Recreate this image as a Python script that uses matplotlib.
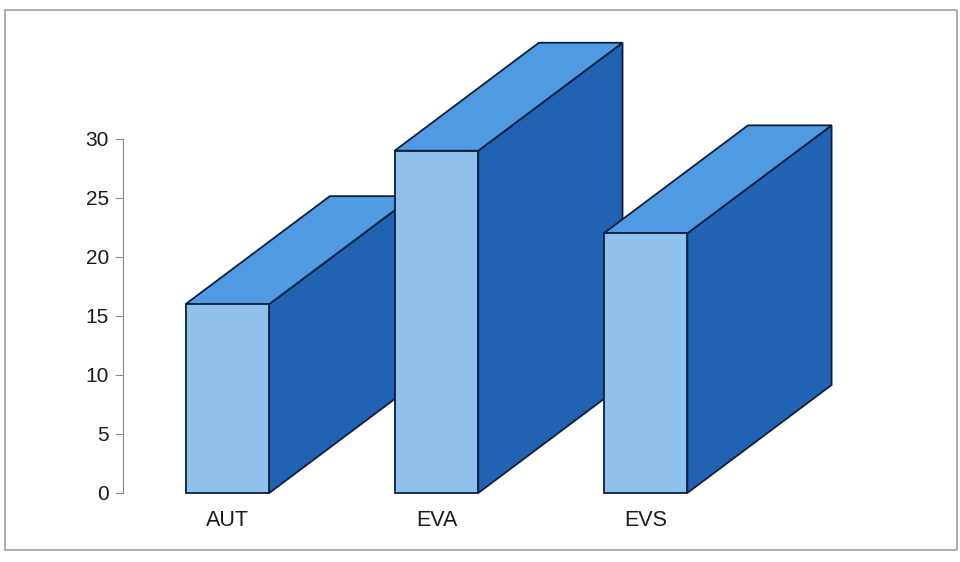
import matplotlib.pyplot as plt
from matplotlib.patches import Polygon, Rectangle

categories = ["AUT", "EVA", "EVS"]
values = [16, 29, 22]

front_col = "#90c0ec"
top_col = "#4f9ae0"
side_col = "#2262b2"
edge_col = "#0c1f3c"

width = 0.4      # bar front width in category units
dx = 0.69        # depth offset, category units
dy = 9.15        # depth offset, value units

plt.rcParams['font.family'] = ['Liberation Sans', 'DejaVu Sans']

fig = plt.figure(figsize=(9.6, 5.62), dpi=100)
ax = fig.add_axes([0.128, 0.1228, 0.809, 0.630])

for i, v in enumerate(values):
    x0 = i - width / 2
    x1 = i + width / 2
    side = Polygon([(x1, 0), (x1 + dx, dy), (x1 + dx, v + dy), (x1, v)],
                   closed=True, fc=side_col, ec=edge_col, lw=1.3, clip_on=False)
    top = Polygon([(x0, v), (x0 + dx, v + dy), (x1 + dx, v + dy), (x1, v)],
                  closed=True, fc=top_col, ec=edge_col, lw=1.3, clip_on=False)
    front = Polygon([(x0, 0), (x0, v), (x1, v), (x1, 0)],
                    closed=True, fc=front_col, ec=edge_col, lw=1.3, clip_on=False)
    ax.add_patch(side)
    ax.add_patch(top)
    ax.add_patch(front)

ax.set_xlim(-0.5, 3.215)
ax.set_ylim(0, 30)
ax.set_yticks(range(0, 31, 5))
ax.set_xticks(range(len(categories)))
ax.set_xticklabels(categories)

for s in ["top", "right", "bottom"]:
    ax.spines[s].set_visible(False)
ax.spines["left"].set_color("#8a8a8a")
ax.tick_params(axis="y", direction="out", length=6, color="#8a8a8a",
               labelsize=15, labelcolor="#1a1a1a", pad=4)
ax.tick_params(axis="x", length=0, labelsize=15.5, labelcolor="#1a1a1a", pad=12)
ax.patch.set_alpha(0)

# outer frame
fig.patches.append(Rectangle((5 / 960, 12 / 562), 952 / 960, 540 / 562,
                             transform=fig.transFigure, fill=False,
                             ec="#a0a0a0", lw=1.2))

fig.savefig("out.png", dpi=100)
